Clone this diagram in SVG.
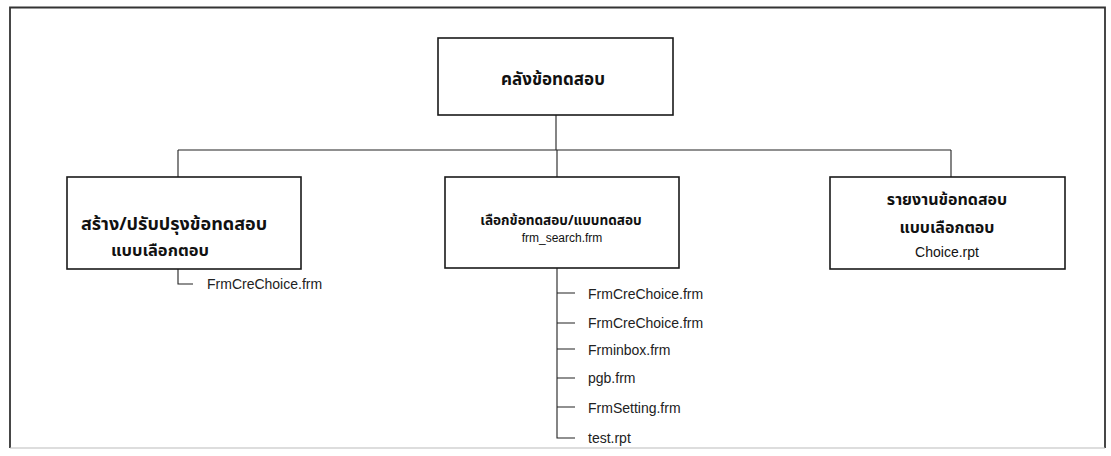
<svg xmlns="http://www.w3.org/2000/svg" width="1111" height="456" viewBox="0 0 1111 456">
<style>
.box{fill:#fff;stroke:#1a1a1a;stroke-width:1.6}
.th{font-family:"Noto Sans Thai","Noto Sans","DejaVu Sans",sans-serif;font-weight:bold;font-size:16px;fill:#111;text-anchor:middle}
.en{font-family:"Liberation Sans",Arial,sans-serif;font-size:12px;fill:#111;text-anchor:middle}
.leaf{font-family:"Liberation Sans",Arial,sans-serif;font-size:14px;fill:#222}
.conn{stroke:#222;stroke-width:1.1;fill:none}
</style>
<rect x="0" y="0" width="1111" height="456" fill="#fff"/>
<g id="frame">
<path d="M10 448 V7.5 H1105 V448" fill="none" stroke="#333" stroke-width="1.8"/>
<path d="M10 448 H1105" fill="none" stroke="#bbb" stroke-width="1.2"/>
</g>
<g id="connectors">
<path class="conn" d="M556 115 V150 M178 150 H951 M178 150 V177 M557 150 V177 M951 150 V177"/>
<path class="conn" d="M178 269 V284 H193"/>
<path class="conn" d="M557 268 V438 H575 M557 293 H575 M557 323 H575 M557 349 H575 M557 378 H575 M557 407 H575"/>
</g>
<g id="node-root">
<rect class="box" x="438" y="38" width="235" height="77"/>
<text class="th" x="553" y="85" style="font-size:17px">คลังข้อทดสอบ</text>
</g>
<g id="node-create">
<rect class="box" x="67" y="177" width="234" height="92"/>
<text class="th" x="174" y="230" style="font-size:18px">สร้าง/ปรับปรุงข้อทดสอบ</text>
<text class="th" x="160" y="256" style="font-size:16.5px">แบบเลือกตอบ</text>
</g>
<g id="node-select">
<rect class="box" x="445" y="177" width="234" height="91"/>
<text class="th" x="561" y="225" style="font-size:13.6px">เลือกข้อทดสอบ/แบบทดสอบ</text>
<text class="en" x="562" y="242">frm_search.frm</text>
</g>
<g id="node-report">
<rect class="box" x="830" y="177" width="235" height="92"/>
<text class="th" x="947" y="205">รายงานข้อทดสอบ</text>
<text class="th" x="947" y="233">แบบเลือกตอบ</text>
<text class="en" x="947" y="257" style="font-size:14px">Choice.rpt</text>
</g>
<g id="leaves">
<text class="leaf" x="207" y="289">FrmCreChoice.frm</text>
<text class="leaf" x="588" y="299">FrmCreChoice.frm</text>
<text class="leaf" x="588" y="328">FrmCreChoice.frm</text>
<text class="leaf" x="588" y="355">Frminbox.frm</text>
<text class="leaf" x="588" y="383">pgb.frm</text>
<text class="leaf" x="588" y="413">FrmSetting.frm</text>
<text class="leaf" x="588" y="443">test.rpt</text>
</g>
</svg>
